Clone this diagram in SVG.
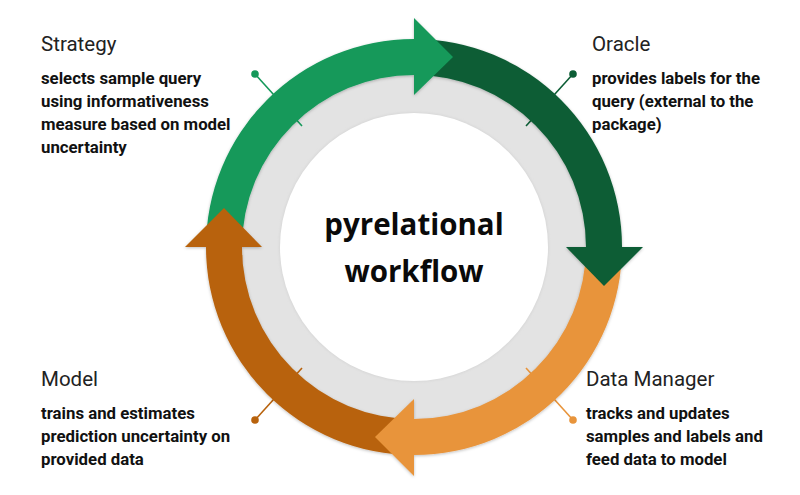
<svg xmlns="http://www.w3.org/2000/svg" width="800" height="495" viewBox="0 0 800 495">
  <defs>
    <filter id="shadow" x="-10%" y="-10%" width="120%" height="120%">
      <feDropShadow dx="0" dy="1" stdDeviation="1.5" flood-color="#000" flood-opacity="0.25"/>
    </filter>
    <filter id="soft" x="-10%" y="-10%" width="120%" height="120%">
      <feGaussianBlur stdDeviation="1.2"/>
    </filter>
  </defs>
  <style>
    .title { font-family: Roboto, "Liberation Sans", sans-serif; font-size: 20.5px; fill: #222; }
    .body { font-family: Roboto, "Liberation Sans", sans-serif; font-size: 16.8px; font-weight: bold; fill: #111; }
    .center { font-family: "Open Sans", "Liberation Sans", sans-serif; font-size: 29.5px; font-weight: bold; fill: #0a0a0a; text-anchor: middle; }
    .lead { stroke-width: 1.6; fill: none; }
    .c1 { fill: #14995a; } .s1 { stroke: #14995a; }
    .c2 { fill: #0c5d35; } .s2 { stroke: #0c5d35; }
    .c3 { fill: #e8943b; } .s3 { stroke: #e8943b; }
    .c4 { fill: #b8620c; } .s4 { stroke: #b8620c; }
  </style>
  <rect width="800" height="495" fill="#ffffff"/>

  <g id="ring">
    <circle cx="414" cy="247" r="190" fill="#e3e3e3"/>
    <circle cx="414" cy="247" r="135" fill="#d8d8d8" filter="url(#soft)"/>
    <circle cx="414" cy="247" r="134" fill="#ffffff"/>
  </g>

  <g id="strategy">
    <line class="lead s1" x1="255" y1="74" x2="302" y2="126"/>
    <circle class="c1" cx="255" cy="74" r="3.8"/>
    <text class="title" x="41" y="51">Strategy</text>
    <text class="body" x="41" y="84">selects sample query</text>
    <text class="body" x="41" y="107">using informativeness</text>
    <text class="body" x="41" y="130">measure based on model</text>
    <text class="body" x="41" y="153">uncertainty</text>
  </g>

  <g id="oracle">
    <line class="lead s2" x1="573" y1="74" x2="526" y2="126"/>
    <circle class="c2" cx="573" cy="74" r="3.8"/>
    <text class="title" x="592" y="51">Oracle</text>
    <text class="body" x="592" y="84">provides labels for the</text>
    <text class="body" x="592" y="107">query (external to the</text>
    <text class="body" x="592" y="130">package)</text>
  </g>

  <g id="data-manager">
    <line class="lead s3" x1="573" y1="420" x2="526" y2="368"/>
    <circle class="c3" cx="573" cy="420" r="3.8"/>
    <text class="title" x="586" y="386">Data Manager</text>
    <text class="body" x="586" y="419">tracks and updates</text>
    <text class="body" x="586" y="442">samples and labels and</text>
    <text class="body" x="586" y="465">feed data to model</text>
  </g>

  <g id="model">
    <line class="lead s4" x1="255" y1="420" x2="302" y2="368"/>
    <circle class="c4" cx="255" cy="420" r="3.8"/>
    <text class="title" x="41" y="386">Model</text>
    <text class="body" x="41" y="419">trains and estimates</text>
    <text class="body" x="41" y="442">prediction uncertainty on</text>
    <text class="body" x="41" y="465">provided data</text>
  </g>

  <g id="connectors" filter="url(#shadow)">
    <path class="c1" d="M 206 247 A 208 208 0 0 1 414 39 L 414 75 A 172 172 0 0 0 242 247 Z"/>
    <path class="c2" d="M 414 39 A 208 208 0 0 1 622 247 L 586 247 A 172 172 0 0 0 414 75 Z"/>
    <path class="c3" d="M 622 247 A 208 208 0 0 1 414 455 L 414 419 A 172 172 0 0 0 586 247 Z"/>
    <path class="c4" d="M 414 455 A 208 208 0 0 1 206 247 L 242 247 A 172 172 0 0 0 414 419 Z"/>
    <polygon class="c1" points="414,18 453,57 414,95"/>
    <polygon class="c2" points="643,247 604,286 566,247"/>
    <polygon class="c3" points="414,476 375,437 414,399"/>
    <polygon class="c4" points="185,247 224,208 262,247"/>
  </g>

  <g id="center">
    <text class="center" x="414" y="235">pyrelational</text>
    <text class="center" x="414" y="282">workflow</text>
  </g>
</svg>
